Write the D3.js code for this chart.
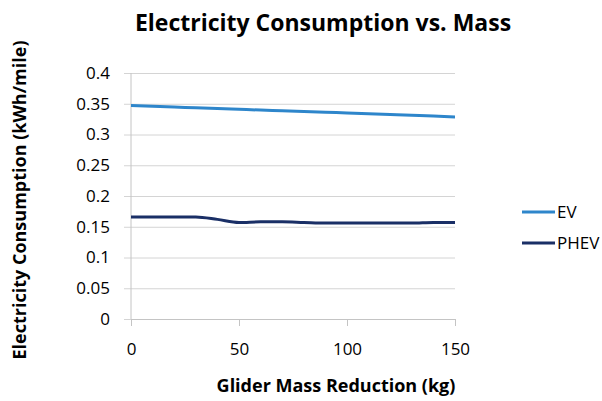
<!DOCTYPE html>
<html>
<head>
<meta charset="utf-8">
<script src="https://cdn.jsdelivr.net/npm/d3@7"></script>
<style>
  body { margin: 0; background: #fff; }
  svg text { font-family: "Open Sans", sans-serif; fill: #000; }
</style>
</head>
<body>
<div class="chart"></div>
<script>
// values
const massReduction = [0, 10, 20, 30, 40, 50, 60, 70, 80, 90, 100, 110, 120, 130, 140, 150]
const evValues   = [0.3470, 0.3459, 0.3447, 0.3435, 0.3423, 0.3410, 0.3397, 0.3386, 0.3374, 0.3362, 0.3350, 0.3338, 0.3325, 0.3312, 0.3299, 0.3285]
const phevValues = [0.166, 0.166, 0.166, 0.166, 0.162, 0.157, 0.158, 0.158, 0.157, 0.156, 0.156, 0.156, 0.156, 0.156, 0.157, 0.157]
const seriesNames = ["EV", "PHEV"]
const seriesColours = ["#2E86CB", "#1A2F66"]
const yTicks = [0, 0.05, 0.1, 0.15, 0.2, 0.25, 0.3, 0.35, 0.4]
const xTicks = [0, 50, 100, 150]

const svg = d3.select(".chart").append("svg").attr("width", 602).attr("height", 401)
const plot = {left: 131, right: 455, top: 73, bottom: 319}

const x = d3.scaleLinear().domain([0, 150]).range([plot.left, plot.right])
const y = d3.scaleLinear().domain([0, 0.4]).range([plot.bottom, plot.top])

// title
svg.append("text").attr("x", 323).attr("y", 31).attr("text-anchor", "middle")
   .style("font-size", "23px").style("font-weight", "bold").text("Electricity Consumption vs. Mass")

// gridlines + y axis
const yAxis = svg.append("g").attr("transform", `translate(${plot.left},0)`)
   .call(d3.axisLeft(y).tickValues(yTicks).tickSize(-(plot.right - plot.left))
         .tickFormat(d => d3.format("")(+d.toFixed(2))))
yAxis.select(".domain").remove()
yAxis.selectAll("line").attr("stroke", "#d4d4d4").attr("x1", -7)
yAxis.selectAll("text").attr("x", -21).style("font-size", "17px").attr("fill", "#222")

// y axis line
svg.append("line").attr("x1", plot.left).attr("x2", plot.left).attr("y1", plot.top).attr("y2", plot.bottom)
   .attr("stroke", "#c4c4c4")

// x axis
const xAxis = svg.append("g").attr("transform", `translate(0,${plot.bottom})`)
   .call(d3.axisBottom(x).tickValues(xTicks).tickSize(7).tickSizeOuter(0))
xAxis.select(".domain").attr("stroke", "#c4c4c4")
xAxis.selectAll("line").attr("stroke", "#c4c4c4")
xAxis.selectAll("text").attr("y", 24).style("font-size", "17px").attr("fill", "#222")

// axis titles
svg.append("text").attr("x", 336).attr("y", 392).attr("text-anchor", "middle")
   .style("font-size", "18px").style("font-weight", "bold").text("Glider Mass Reduction (kg)")
svg.append("text").attr("transform", "translate(26,200) rotate(-90)").attr("text-anchor", "middle")
   .style("font-size", "18px").style("font-weight", "bold").text("Electricity Consumption (kWh/mile)")

// lines
const line = d3.line().x((d, i) => x(massReduction[i])).y(d => y(d)).curve(d3.curveMonotoneX)
const series = [evValues, phevValues]
svg.selectAll(".series").data(series).enter().append("path").attr("class", "series")
   .attr("d", line).attr("fill", "none").attr("stroke-width", 3)
   .attr("stroke", (d, i) => seriesColours[i])

// legend
const legend = svg.selectAll(".legend").data(seriesNames).enter().append("g")
   .attr("class", "legend").attr("transform", (d, i) => `translate(522,${212 + i * 31})`)
legend.append("line").attr("x1", 0).attr("x2", 33).attr("stroke-width", 3)
   .attr("stroke", (d, i) => seriesColours[i])
legend.append("text").attr("x", 35).attr("y", 6).style("font-size", "17px").attr("fill", "#222").text(d => d)
</script>
</body>
</html>
